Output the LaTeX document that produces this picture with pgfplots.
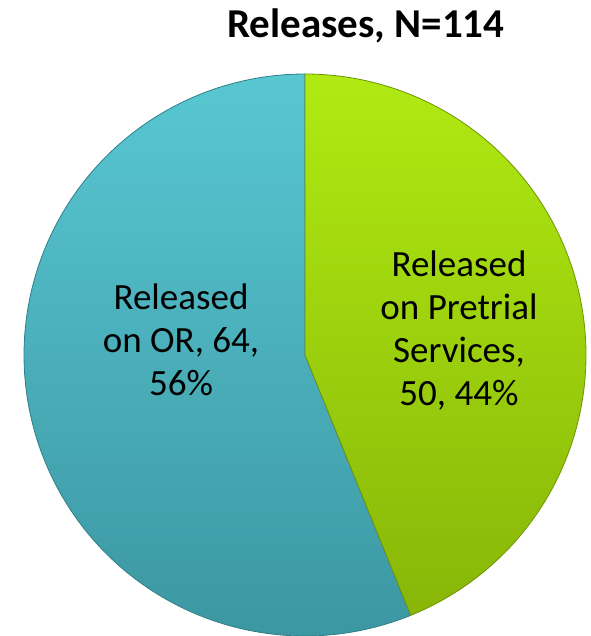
\documentclass[border=0pt]{standalone}
\usepackage{pgfplots}
\pgfplotsset{compat=1.18}
\usepackage{fontspec}
\setmainfont{Carlito}
\definecolor{blueTop}{HTML}{58C7D2}
\definecolor{blueBot}{HTML}{3C97A2}
\definecolor{blueEdge}{HTML}{2F7F89}
\definecolor{greenTop}{HTML}{B0EA12}
\definecolor{greenBot}{HTML}{88B608}
\definecolor{greenEdge}{HTML}{6E9406}
% data: releases by type
\def\valOR{64}
\def\valPT{50}
\begin{document}%
\begin{tikzpicture}
\pgfmathsetmacro{\total}{\valOR+\valPT}
\pgfmathsetmacro{\angPT}{360/\total*\valPT}
\pgfmathsetmacro{\gStart}{90-\angPT}
\pgfmathsetmacro{\bEnd}{90+360/\total*\valOR}
\begin{axis}[
  scale only axis, width=590pt, height=636pt,
  xmin=0, xmax=590, ymin=0, ymax=636,
  hide axis, clip=true,
]
\path (axis cs:0,0) rectangle (axis cs:590,636);
% OR slice
\addplot[top color=blueTop, bottom color=blueBot, draw=blueEdge, line width=0.8pt,
  domain=90:\bEnd, samples=181, variable=\t, line join=round]
  ({305+281*cos(t)},{281+281*sin(t)}) -- (axis cs:305,281) -- cycle;
% Pretrial slice
\addplot[top color=greenTop, bottom color=greenBot, draw=greenEdge, line width=0.8pt,
  domain=\gStart:90, samples=181, variable=\t, line join=round]
  ({305+281*cos(t)},{281+281*sin(t)}) -- (axis cs:305,281) -- cycle;
\node[align=center, font=\fontsize{37}{43}\selectfont] at (axis cs:181,296)
  {Released\\on OR, 64,\\56\%};
\node[align=center, font=\fontsize{37}{43}\selectfont] at (axis cs:459,305)
  {Released\\on Pretrial\\Services,\\50, 44\%};
\node[font=\fontsize{41}{46}\selectfont\bfseries] at (axis cs:366,610)
  {Releases, N=114};
\end{axis}
\end{tikzpicture}%
\end{document}
